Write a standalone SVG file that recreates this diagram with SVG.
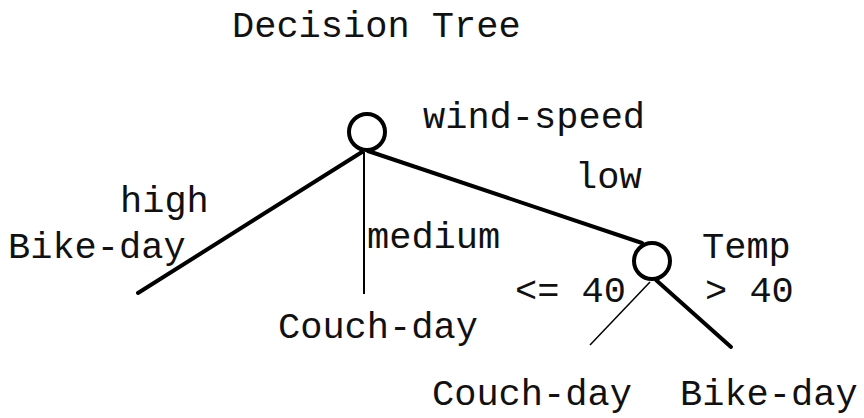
<svg xmlns="http://www.w3.org/2000/svg" width="864" height="418" viewBox="0 0 864 418">
<style>
text{font-family:"Liberation Mono","Courier New",monospace;font-size:37px;fill:#111}
.thick{stroke:#000;stroke-width:4;fill:none;stroke-linecap:round}
.thin{stroke:#000;stroke-width:1.5;fill:none}
.med{stroke:#000;stroke-width:2;fill:none}
.node{stroke:#000;stroke-width:4;fill:#fff}
</style>
<rect width="864" height="418" fill="#fff"/>
<text x="232" y="37">Decision Tree</text>
<g id="connectors">
<line class="thick" x1="362" y1="152" x2="138" y2="293"/>
<line class="med" x1="364" y1="152" x2="364" y2="294"/>
<line class="thick" x1="368" y1="151" x2="642" y2="243"/>
<line class="thin" x1="650" y1="282" x2="590" y2="345"/>
<line class="thick" x1="656" y1="280" x2="731" y2="347"/>
<text x="120" y="212">high</text>
<text x="367" y="248">medium</text>
<text x="575" y="188">low</text>
<text x="515" y="302">&lt;= 40</text>
<text x="705" y="302">&gt; 40</text>
</g>
<g id="root">
<circle class="node" cx="367" cy="132" r="18"/>
<text x="423" y="128">wind-speed</text>
</g>
<g id="temp">
<circle class="node" cx="652" cy="261" r="18"/>
<text x="702" y="258">Temp</text>
</g>
<g id="leaf-bike-high"><text x="8" y="258">Bike-day</text></g>
<g id="leaf-couch-medium"><text x="278" y="338">Couch-day</text></g>
<g id="leaf-couch-le40"><text x="432" y="405">Couch-day</text></g>
<g id="leaf-bike-gt40"><text x="680" y="405">Bike-day</text></g>
</svg>
